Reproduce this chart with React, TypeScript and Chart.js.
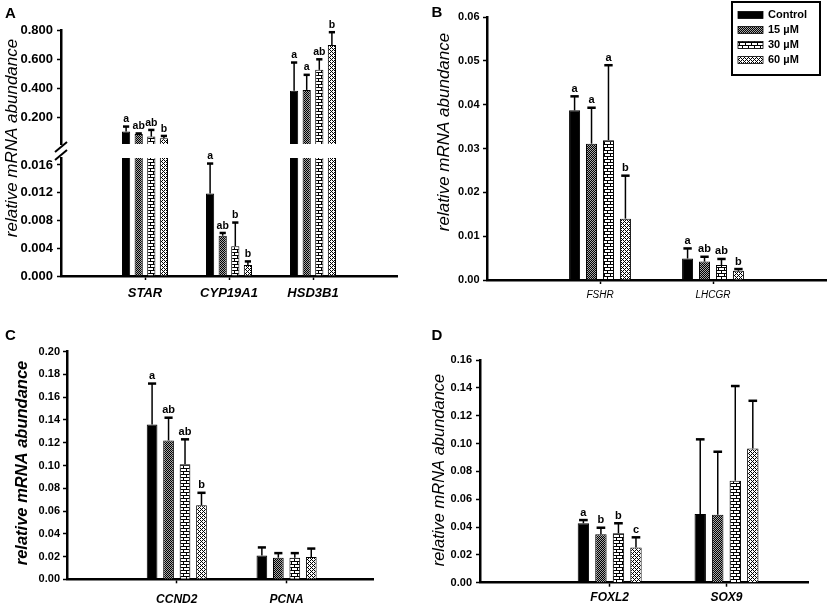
import { useEffect, useRef } from "react";
import { Chart, registerables, type ChartConfiguration, type Plugin, type Scale } from "chart.js";

Chart.register(...registerables);

const FAMILY = "'Liberation Sans', Arial, sans-serif";
const SERIES = ["Control", "15 µM", "30 µM", "60 µM"];
const STACKS = ["s0", "s15", "s30", "s60"];

// Panel A – steroidogenic genes (broken y axis)
const A_GENES = ["STAR", "CYP19A1", "HSD3B1"];
const A_CONTROL = [0.107, 0.0119, 0.386];
const A_15UM = [0.091, 0.0058, 0.391];
const A_30UM = [0.0725, 0.0043, 0.528];
const A_60UM = [0.061, 0.0016, 0.698];
const A_ERR_CONTROL = [0.034, 0.0043, 0.192];
const A_ERR_15UM = [0.003, 0.0004, 0.103];
const A_ERR_30UM = [0.0455, 0.0034, 0.072];
const A_ERR_60UM = [0.016, 0.0005, 0.087];
const A_SIG_CONTROL = ["a", "a", "a"];
const A_SIG_15UM = ["ab", "ab", "a"];
const A_SIG_30UM = ["ab", "b", "ab"];
const A_SIG_60UM = ["b", "b", "b"];
const A_LOW_TICKS = [0, 0.004, 0.008, 0.012, 0.016];
const A_HIGH_TICKS = [0.2, 0.4, 0.6, 0.8];

// Panel B – gonadotropin receptors
const B_GENES = ["FSHR", "LHCGR"];
const B_CONTROL = [0.0387, 0.0049];
const B_15UM = [0.0311, 0.0042];
const B_30UM = [0.0319, 0.0034];
const B_60UM = [0.014, 0.0021];
const B_ERR_CONTROL = [0.0032, 0.0023];
const B_ERR_15UM = [0.0082, 0.0011];
const B_ERR_30UM = [0.0171, 0.0014];
const B_ERR_60UM = [0.0098, 0.0004];
const B_SIG_CONTROL = ["a", "a"];
const B_SIG_15UM = ["a", "ab"];
const B_SIG_30UM = ["a", "ab"];
const B_SIG_60UM = ["b", "b"];
const B_TICKS = [0, 0.01, 0.02, 0.03, 0.04, 0.05, 0.06];

// Panel C – proliferation
const C_GENES = ["CCND2", "PCNA"];
const C_CONTROL = [0.136, 0.021];
const C_15UM = [0.122, 0.019];
const C_30UM = [0.101, 0.019];
const C_60UM = [0.065, 0.0195];
const C_ERR_CONTROL = [0.036, 0.007];
const C_ERR_15UM = [0.02, 0.004];
const C_ERR_30UM = [0.022, 0.004];
const C_ERR_60UM = [0.011, 0.0075];
const C_SIG_CONTROL = ["a", ""];
const C_SIG_15UM = ["ab", ""];
const C_SIG_30UM = ["ab", ""];
const C_SIG_60UM = ["b", ""];
const C_TICKS = [0, 0.02, 0.04, 0.06, 0.08, 0.1, 0.12, 0.14, 0.16, 0.18, 0.2];

// Panel D – granulosa / sertoli markers
const D_GENES = ["FOXL2", "SOX9"];
const D_CONTROL = [0.0427, 0.0494];
const D_15UM = [0.0348, 0.0489];
const D_30UM = [0.0355, 0.0733];
const D_60UM = [0.0252, 0.0965];
const D_ERR_CONTROL = [0.0023, 0.0536];
const D_ERR_15UM = [0.0047, 0.0452];
const D_ERR_30UM = [0.0072, 0.068];
const D_ERR_60UM = [0.0074, 0.0342];
const D_SIG_CONTROL = ["a", ""];
const D_SIG_15UM = ["b", ""];
const D_SIG_30UM = ["b", ""];
const D_SIG_60UM = ["c", ""];
const D_TICKS = [0, 0.02, 0.04, 0.06, 0.08, 0.1, 0.12, 0.14, 0.16];

type FillKind = "solid" | "cross" | "brick" | "dots";
const SERIES_FILLS: FillKind[] = ["solid", "cross", "brick", "dots"];

function makeFill(kind: FillKind): string | CanvasPattern {
  if (kind === "solid") return "#000";
  const c = document.createElement("canvas");
  const g = c.getContext("2d")!;
  const size = kind === "brick" ? 6 : kind === "cross" ? 2 : 4;
  c.width = size;
  c.height = size;
  g.fillStyle = "#fff";
  g.fillRect(0, 0, size, size);
  if (kind === "cross") {
    // fine dark checker
    g.fillStyle = "#000";
    g.fillRect(0, 0, 1, 1);
    g.fillRect(1, 1, 1, 1);
    g.fillStyle = "#a8a8a8";
    g.fillRect(1, 0, 1, 1);
    g.fillRect(0, 1, 1, 1);
  } else if (kind === "brick") {
    g.fillStyle = "#000";
    g.fillRect(0, 0, 6, 1);
    g.fillRect(0, 3, 6, 1);
    g.fillRect(0, 0, 1, 3);
    g.fillRect(3, 3, 1, 3);
  } else {
    // stipple
    g.fillStyle = "#000";
    [
      [0, 0], [2, 0], [1, 1], [0, 2], [2, 2], [3, 3],
    ].forEach(([x, y]) => g.fillRect(x, y, 1, 1));
  }
  return g.createPattern(c, "repeat")!;
}

// error bar + significance letter above each bar
const errorBars: Plugin = {
  id: "errorBars",
  afterDatasetsDraw(chart, _args, opts: any) {
    const ctx = chart.ctx;
    chart.data.datasets.forEach((ds: any, di) => {
      const meta = chart.getDatasetMeta(di);
      const yScale = chart.scales[meta.yAxisID as string];
      meta.data.forEach((bar: any, i) => {
        const v = ds.data[i]?.y;
        if (v == null) return;
        const e = ds.errors?.[i];
        const { x, width } = bar.getProps(["x", "width"], true);
        let labelY = yScale.getPixelForValue(v);
        ctx.save();
        ctx.strokeStyle = "#000";
        if (e != null) {
          const yErr = yScale.getPixelForValue(v + e);
          ctx.lineWidth = 1.5;
          ctx.beginPath();
          ctx.moveTo(x, labelY);
          ctx.lineTo(x, yErr);
          ctx.stroke();
          ctx.lineWidth = 2.5;
          ctx.beginPath();
          ctx.moveTo(x - width * 0.38, yErr);
          ctx.lineTo(x + width * 0.38, yErr);
          ctx.stroke();
          labelY = yErr;
        }
        const letter = ds.letters?.[i];
        if (letter) {
          ctx.fillStyle = "#000";
          ctx.font = `bold ${opts.size ?? 10}px ${FAMILY}`;
          ctx.textAlign = "center";
          ctx.textBaseline = "bottom";
          ctx.fillText(letter, x, labelY - 2);
        }
        ctx.restore();
      });
    });
  },
};

// panel letter and rotated y title
const panelText: Plugin = {
  id: "panelText",
  afterDraw(chart, _args, opts: any) {
    const ctx = chart.ctx;
    ctx.save();
    ctx.fillStyle = "#000";
    ctx.font = `bold 15px ${FAMILY}`;
    ctx.textAlign = "left";
    ctx.textBaseline = "alphabetic";
    ctx.fillText(opts.letter, opts.letterX, opts.letterY);
    ctx.translate(opts.titleX, opts.titleY);
    ctx.rotate(-Math.PI / 2);
    ctx.font = opts.titleFont;
    ctx.textAlign = "center";
    ctx.textBaseline = "middle";
    ctx.fillText("relative mRNA abundance", 0, 0);
    ctx.restore();
  },
};

// "//" marks where the y axis is broken
const axisBreak: Plugin = {
  id: "axisBreak",
  afterDraw(chart, _args, opts: any) {
    if (!opts.upper) return;
    const up = chart.scales[opts.upper];
    const low = chart.scales[opts.lower];
    const x = chart.chartArea.left;
    const ctx = chart.ctx;
    ctx.save();
    ctx.strokeStyle = "#000";
    ctx.lineWidth = 2;
    [up.bottom + 3, low.top - 3].forEach((cy) => {
      ctx.beginPath();
      ctx.moveTo(x - 6, cy + 5);
      ctx.lineTo(x + 6, cy - 5);
      ctx.stroke();
    });
    ctx.restore();
  },
};

const boxLegend: Plugin = {
  id: "boxLegend",
  afterDraw(chart, _args, opts: any) {
    if (!opts.show) return;
    const ctx = chart.ctx;
    ctx.save();
    ctx.strokeStyle = "#000";
    ctx.lineWidth = 2;
    ctx.strokeRect(opts.x, opts.y, opts.w, opts.h);
    chart.data.datasets.forEach((ds: any, i) => {
      const cy = opts.y + 13 + i * 15;
      ctx.fillStyle = ds.backgroundColor;
      ctx.fillRect(opts.x + 6, cy - 3.5, 25, 7);
      ctx.lineWidth = 0.8;
      ctx.strokeRect(opts.x + 6, cy - 3.5, 25, 7);
      ctx.fillStyle = "#000";
      ctx.font = `bold 11px ${FAMILY}`;
      ctx.textAlign = "left";
      ctx.textBaseline = "middle";
      ctx.fillText(ds.label, opts.x + 36, cy);
    });
    ctx.restore();
  },
};

function barSets(
  means: number[][],
  errs: number[][],
  sigs: string[][],
  fills: (string | CanvasPattern)[],
  yAxisID: string,
  show: (v: number) => boolean,
  annotate: (v: number) => boolean,
) {
  return SERIES.map((label, s) => ({
    type: "bar" as const,
    label,
    stack: STACKS[s],
    yAxisID,
    data: means[s].map((v, i) => ({ x: i + 1, y: show(v) ? v : null })),
    errors: errs[s].map((e, i) => (annotate(means[s][i]) ? e : null)),
    letters: sigs[s].map((t, i) => (annotate(means[s][i]) ? t : "")),
    backgroundColor: fills[s],
    borderColor: "#000",
    borderWidth: 1,
    borderSkipped: "start" as const,
    categoryPercentage: 0.6,
    barPercentage: 0.65,
    clip: 0,
  }));
}

const line = { display: true, color: "#000", width: 2.5 };
const tickMarks = { display: true, drawOnChartArea: false, drawTicks: true, tickLength: 4, tickWidth: 1.5, tickColor: "#000", offset: false };

function xAxis(genes: string[], min: number, max: number, height: number, font: any, padding: number) {
  return {
    type: "linear" as const,
    min,
    max,
    offset: false,
    afterBuildTicks: (s: Scale) => {
      s.ticks = genes.map((_, i) => ({ value: i + 1 }));
    },
    afterFit: (s: Scale) => {
      s.height = height;
    },
    ticks: {
      callback: (v: any) => genes[Math.round(Number(v)) - 1] ?? "",
      autoSkip: false,
      maxRotation: 0,
      color: "#000",
      font,
      padding,
    },
    grid: tickMarks,
    border: line,
  };
}

function yAxis(ticks: number[], min: number, max: number, digits: number, width: number, font: any, padding: number, extra: any = {}) {
  return {
    type: "linear" as const,
    position: "left" as const,
    min,
    max,
    stacked: false,
    afterBuildTicks: (s: Scale) => {
      s.ticks = ticks.map((value) => ({ value }));
    },
    afterFit: (s: Scale) => {
      s.width = width;
    },
    ticks: { callback: (v: any) => Number(v).toFixed(digits), color: "#000", font, padding, autoSkip: false },
    grid: tickMarks,
    border: line,
    ...extra,
  };
}

function baseOptions(padding: any, scales: any, plugins: any): any {
  return {
    animation: false,
    responsive: false,
    maintainAspectRatio: false,
    layout: { padding },
    scales,
    plugins: { legend: { display: false }, tooltip: { enabled: false }, ...plugins },
  };
}

function configA(fills: (string | CanvasPattern)[]): ChartConfiguration {
  const means = [A_CONTROL, A_15UM, A_30UM, A_60UM];
  const errs = [A_ERR_CONTROL, A_ERR_15UM, A_ERR_30UM, A_ERR_60UM];
  const sigs = [A_SIG_CONTROL, A_SIG_15UM, A_SIG_30UM, A_SIG_60UM];
  const lowMax = 0.017;
  const highMin = 0.022;
  const tickFont = { family: FAMILY, size: 13, weight: "bold" };
  return {
    type: "bar",
    data: {
      datasets: [
        ...barSets(means, errs, sigs, fills, "yLow", () => true, (v) => v < lowMax),
        ...barSets(means, errs, sigs, fills, "yHigh", (v) => v > highMin, (v) => v > highMin),
      ] as any,
    },
    options: baseOptions(
      { left: 0, top: 30, right: 18, bottom: 0 },
      {
        x: xAxis(A_GENES, 0, 4, 24, { family: FAMILY, size: 13, weight: "bold", style: "italic" }, 6),
        yLow: yAxis(A_LOW_TICKS, 0, lowMax, 3, 61, tickFont, 4, { stack: "a", stackWeight: 118 }),
        yGap: {
          type: "linear",
          position: "left",
          stack: "a",
          stackWeight: 14,
          ticks: { display: false },
          grid: { display: false },
          border: { display: false },
          afterFit: (s: Scale) => {
            s.width = 61;
          },
        },
        yHigh: yAxis(A_HIGH_TICKS, highMin, 0.8, 3, 61, tickFont, 4, { stack: "a", stackWeight: 114 }),
      },
      {
        errorBars: { size: 10.5 },
        panelText: { letter: "A", letterX: 5, letterY: 18, titleX: 12, titleY: 138, titleFont: `italic 17px ${FAMILY}` },
        axisBreak: { upper: "yHigh", lower: "yLow" },
      },
    ),
    plugins: [errorBars, panelText, axisBreak],
  };
}

function simpleConfig(
  genes: string[],
  means: number[][],
  errs: number[][],
  sigs: string[][],
  fills: (string | CanvasPattern)[],
  ticks: number[],
  yMax: number,
  geom: { padding: any; yWidth: number; xHeight: number; xMin: number; xMax: number; xPad: number; yPad: number },
  catFont: any,
  text: any,
  legend: any,
): ChartConfiguration {
  return {
    type: "bar",
    data: { datasets: barSets(means, errs, sigs, fills, "y", () => true, () => true) as any },
    options: baseOptions(
      geom.padding,
      {
        x: xAxis(genes, geom.xMin, geom.xMax, geom.xHeight, catFont, geom.xPad),
        y: yAxis(ticks, 0, yMax, 2, geom.yWidth, { family: FAMILY, size: 11, weight: "bold" }, geom.yPad),
      },
      { errorBars: { size: 11 }, panelText: text, boxLegend: legend },
    ),
    plugins: [errorBars, panelText, boxLegend],
  };
}

type Panel = { left: number; top: number; width: number; height: number; build: (fills: (string | CanvasPattern)[]) => ChartConfiguration };

const PANELS: Panel[] = [
  { left: 0, top: 0, width: 415, height: 300, build: configA },
  {
    left: 415,
    top: 0,
    width: 414,
    height: 300,
    build: (fills) =>
      simpleConfig(
        B_GENES,
        [B_CONTROL, B_15UM, B_30UM, B_60UM],
        [B_ERR_CONTROL, B_ERR_15UM, B_ERR_30UM, B_ERR_60UM],
        [B_SIG_CONTROL, B_SIG_15UM, B_SIG_30UM, B_SIG_60UM],
        fills,
        B_TICKS,
        0.06,
        { padding: { left: 0, top: 17, right: 3, bottom: 0 }, yWidth: 72, xHeight: 20, xMin: 0, xMax: 3, xPad: 5, yPad: 3.5 },
        { family: FAMILY, size: 10, style: "italic" },
        { letter: "B", letterX: 16.5, letterY: 17, titleX: 29, titleY: 132, titleFont: `italic 17px ${FAMILY}` },
        { show: true, x: 317, y: 2, w: 88, h: 73 },
      ),
  },
  {
    left: 0,
    top: 300,
    width: 415,
    height: 307,
    build: (fills) =>
      simpleConfig(
        C_GENES,
        [C_CONTROL, C_15UM, C_30UM, C_60UM],
        [C_ERR_CONTROL, C_ERR_15UM, C_ERR_30UM, C_ERR_60UM],
        [C_SIG_CONTROL, C_SIG_15UM, C_SIG_30UM, C_SIG_60UM],
        fills,
        C_TICKS,
        0.2,
        { padding: { left: 0, top: 51.7, right: 41.7, bottom: 3.7 }, yWidth: 67, xHeight: 24, xMin: 0, xMax: 2.79, xPad: 9, yPad: 3 },
        { family: FAMILY, size: 12, weight: "bold", style: "italic" },
        { letter: "C", letterX: 5, letterY: 39.5, titleX: 22, titleY: 163, titleFont: `bold italic 16.5px ${FAMILY}` },
        { show: false },
      ),
  },
  {
    left: 415,
    top: 300,
    width: 414,
    height: 307,
    build: (fills) =>
      simpleConfig(
        D_GENES,
        [D_CONTROL, D_15UM, D_30UM, D_60UM],
        [D_ERR_CONTROL, D_ERR_15UM, D_ERR_30UM, D_ERR_60UM],
        [D_SIG_CONTROL, D_SIG_15UM, D_SIG_30UM, D_SIG_60UM],
        fills,
        D_TICKS,
        0.16,
        { padding: { left: 0, top: 60, right: 20.7, bottom: 0.3 }, yWidth: 65, xHeight: 24, xMin: -0.11, xMax: 2.7, xPad: 4, yPad: 4 },
        { family: FAMILY, size: 12, weight: "bold", style: "italic" },
        { letter: "D", letterX: 16.5, letterY: 39.5, titleX: 24, titleY: 170, titleFont: `italic 16.5px ${FAMILY}` },
        { show: false },
      ),
  },
];

function PanelCanvas({ panel }: { panel: Panel }) {
  const canvasRef = useRef<HTMLCanvasElement>(null);

  useEffect(() => {
    if (!canvasRef.current) return;
    const fills = SERIES_FILLS.map(makeFill);
    const chart = new Chart(canvasRef.current, panel.build(fills));
    return () => {
      chart.destroy();
    };
  }, [panel]);

  return (
    <canvas
      ref={canvasRef}
      width={panel.width}
      height={panel.height}
      style={{ position: "absolute", left: panel.left, top: panel.top, width: panel.width, height: panel.height }}
    />
  );
}

export default function App() {
  return (
    <div style={{ position: "absolute", left: 0, top: 0, width: 829, height: 607, background: "#fff" }}>
      {PANELS.map((p, i) => (
        <PanelCanvas key={i} panel={p} />
      ))}
    </div>
  );
}
